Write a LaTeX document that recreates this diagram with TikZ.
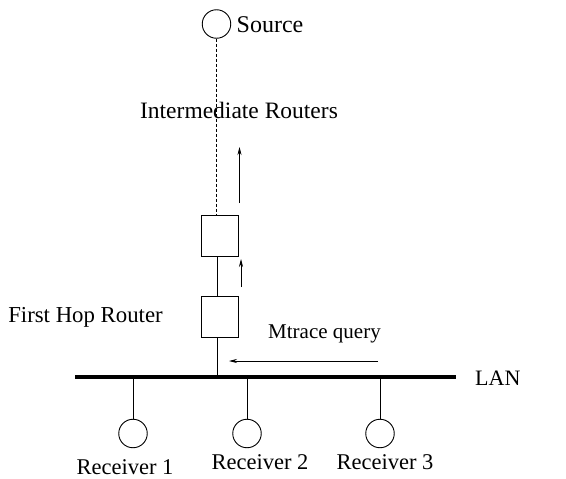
\documentclass[tikz,border=0pt]{standalone}
\usepackage{fontspec}
\setmainfont{Liberation Serif}
\usetikzlibrary{arrows.meta}
\begin{document}
\begin{tikzpicture}[x=1pt,y=-1pt,
  lbl/.style={font=\fontsize{22.5}{24}\selectfont, inner sep=0pt},
  host/.style={draw, circle, line width=0.9pt, minimum size=28.5pt, inner sep=0pt},
  router/.style={draw, rectangle, line width=0.9pt, minimum width=37pt, minimum height=41pt, inner sep=0pt},
  link/.style={line width=0.9pt},
  msg/.style={line width=0.7pt, -{Stealth[length=8pt,width=4pt]}}]
\useasboundingbox (0,0) rectangle (566,479);
% source
\node[host] (src) at (216.5,24) {};
\node[lbl, anchor=west, font=\fontsize{24}{26}\selectfont] (srclbl) at (236.5,25) {Source};
% routers
\node[router] (r2) at (219.5,235.5) {};
\node[router] (r1) at (219.5,316.5) {};
\coordinate (lanL) at (75,377);
\coordinate (lanR) at (456,377);
\draw[line width=3.8pt] (lanL) -- (lanR);
\node[lbl, anchor=west, font=\fontsize{22}{24}\selectfont] (lan) at (475,378) {LAN};
\coordinate (vline) at (217,0);
\draw[link, dash pattern=on 3pt off 2pt] (src.south) -- (src.south |- r2.north);
\draw[link] (vline |- r2.south) -- (vline |- r1.north);
\draw[link] (vline |- r1.south) -- (vline |- lanL);
% receivers
\node[host] (h1) at (133,433.5) {};
\node[host] (h2) at (247,433.5) {};
\node[host] (h3) at (380,433.5) {};
\draw[link] (h1.north) -- (h1.north |- lanL);
\draw[link] (h2.north) -- (h2.north |- lanL);
\draw[link] (h3.north) -- (h3.north |- lanL);
\node[lbl] (l1) at (125,467) {Receiver 1};
\node[lbl] (l2) at (260,462) {Receiver 2};
\node[lbl] (l3) at (385,462) {Receiver 3};
% labels
\node[lbl, font=\fontsize{23.5}{25}\selectfont] (irl) at (239,110) {Intermediate Routers};
\node[lbl, anchor=east, font=\fontsize{22.8}{24}\selectfont] (fhr) at (163,317) {First Hop Router};
\node[lbl, font=\fontsize{21}{23}\selectfont] (mq) at (324.5,334) {Mtrace query};
% arrows
\coordinate (a1s) at (239.5,203); \coordinate (a1e) at (239.5,147);
\coordinate (a2s) at (241,287); \coordinate (a2e) at (241,259);
\coordinate (a3s) at (378,361); \coordinate (a3e) at (229,361);
\draw[msg] (a1s) -- (a1e);
\draw[msg] (a2s) -- (a2e);
\draw[msg] (a3s) -- (a3e);
\end{tikzpicture}
\end{document}
